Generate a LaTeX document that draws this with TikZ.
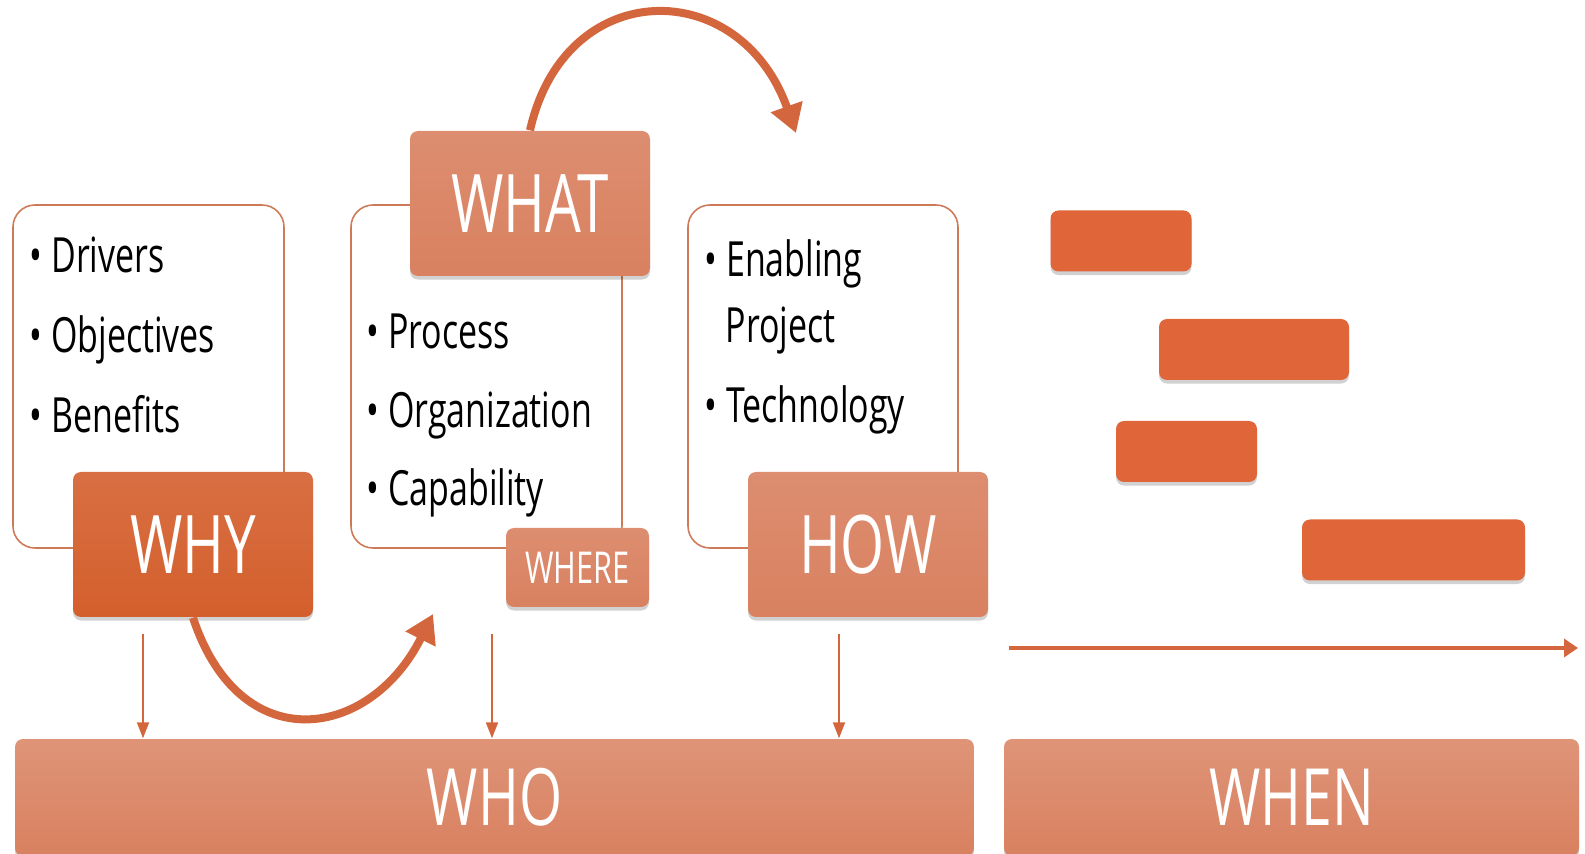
\documentclass[tikz,border=0pt]{standalone}
\usepackage{fontspec}
\setmainfont{Open Sans}[FakeStretch=0.7]
\usetikzlibrary{arrows.meta,shadows}
\definecolor{frameline}{RGB}{204,122,88}
\definecolor{mydarkorange}{RGB}{212,95,45}
\definecolor{mylightorange}{RGB}{217,129,96}
\definecolor{mybarorange}{RGB}{224,101,56}
\definecolor{myarrow}{RGB}{212,102,62}
\newcommand{\widthframe}{27.1mm}
\newcommand{\heightframe}{34.3mm}
\newcommand{\widthtag}{24mm}
\newcommand{\heighttag}{14.5mm}
\tikzset{
    frame/.style={draw=frameline, line width=0.45pt, fill=white, rounded corners=2.2mm,
        minimum width=\widthframe, minimum height=\heightframe},
    common/.style={rounded corners=0.8mm, inner sep=0pt, text=white,
        drop shadow={shadow xshift=0pt, shadow yshift=-1pt, opacity=.18, fill=black}},
    tag/.style={common, top color=mylightorange!90!white, bottom color=mylightorange,
        minimum width=\widthtag, minimum height=\heighttag, font=\fontsize{23}{26}\selectfont},
    bar/.style={common, fill=mybarorange, minimum height=6.1mm},
    band/.style={common, top color=mylightorange!85!white, bottom color=mylightorange,
        minimum height=11.7mm, font=\fontsize{22.5}{26}\selectfont},
    item/.style={anchor=base west, inner sep=0pt, font=\fontsize{13.8}{16}\selectfont},
    bigarrow/.style={draw=myarrow, line width=0.8mm, -{Triangle[length=2.8mm,width=3.2mm]}},
    downarrow/.style={draw=myarrow, line width=0.2mm, -{Triangle[length=1.6mm,width=1.2mm]}},
    timearrow/.style={draw=myarrow, line width=0.4mm, -{Triangle[length=1.4mm,width=1.8mm]}}
}

\begin{document}
\begin{tikzpicture}[x=0.1mm, y=-0.1mm]
    \useasboundingbox (0,0) rectangle (1585,854);

    % frames with the lists
    \node[frame] (whyframe) at (148.5,376.5) {};
    \node[frame] (whatframe) at (486.5,376.5) {};
    \node[frame, minimum width=27mm] (howframe) at (823,376.5) {};

    \node[item] (drivers) at (29,273) {\textbullet\ Drivers};
    \node[item] (objectives) at (29,353) {\textbullet\ Objectives};
    \node[item] (benefits) at (29,433) {\textbullet\ Benefits};

    \node[item] (process) at (366,349) {\textbullet\ Process};
    \node[item] (organization) at (366,428) {\textbullet\ Organization};
    \node[item] (capability) at (366,506) {\textbullet\ Capability};

    \node[item] (enabling) at (704,277) {\textbullet\ Enabling};
    \node[item] (project) at (725,343) {Project};
    \node[item] (technology) at (704,423) {\textbullet\ Technology};

    % question tags
    \node[tag, top color=mydarkorange!90!white, bottom color=mydarkorange] (why) at (193,544.5) {WHY};
    \node[tag] (what) at (530,203.5) {WHAT};
    \node[tag] (how) at (868,544.5) {HOW};
    \node[tag, minimum width=14.3mm, minimum height=7.9mm, font=\fontsize{12.5}{14}\selectfont] (where) at (577.5,567.5) {WHERE};

    \node[band, minimum width=95.9mm] (who) at (494.5,797.5) {WHO};
    \node[band, minimum width=57.5mm] (when) at (1291.5,797.5) {WHEN};

    % time line
    \node[bar, minimum width=14.1mm] (task1) at (1121,241) {};
    \node[bar, minimum width=19mm] (task2) at (1254,349.5) {};
    \node[bar, minimum width=14.1mm] (task3) at (1186.5,451.5) {};
    \node[bar, minimum width=22.3mm] (task4) at (1413.5,550) {};

    \coordinate (t0) at (1009,648);
    \coordinate (t1) at (1578,648);
    \draw[timearrow] (t0) -- (t1);

    % arrows down to WHO
    \coordinate (d1) at (143,634);
    \coordinate (d2) at (492,634);
    \coordinate (d3) at (839,634);
    \foreach \d in {d1,d2,d3}
        \draw[downarrow] (\d) -- (\d |- who.north);

    % curved arrows
    \coordinate (whereto) at (433,614);
    \coordinate (howto) at (796,133);
    \draw[bigarrow] (why.south) .. controls (240,760) and (370,740) .. (whereto);
    \draw[bigarrow] (what.north) .. controls (565,-25) and (740,-25) .. (howto);
\end{tikzpicture}
\end{document}
